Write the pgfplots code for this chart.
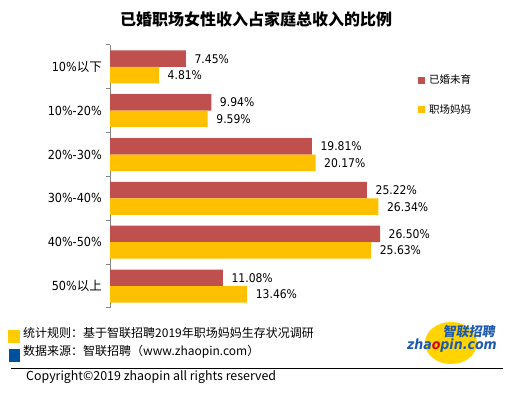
\documentclass[border=0pt]{standalone}
\usepackage{pgfplots}
\pgfplotsset{compat=1.18}
\usepackage{fontspec}
\setmainfont{DejaVu Sans Condensed}
\newfontfamily\cjk{Noto Sans CJK SC}
\newfontfamily\cjkit[FakeSlant=0.15]{Noto Sans CJK SC}
\definecolor{barred}{HTML}{C0504D}
\definecolor{baryel}{HTML}{FFC000}
\definecolor{axgray}{HTML}{868686}
\definecolor{fyel}{HTML}{FFCC00}
\definecolor{fblue}{HTML}{0050A0}
\definecolor{logoblue}{HTML}{1E5BB0}
\definecolor{logoyel}{HTML}{FFD400}
\begin{document}
\begin{tikzpicture}[x=1pt,y=1pt]
\path[use as bounding box] (0,0) rectangle (514,398);
\node[font=\cjk\bfseries\fontsize{16}{16}\selectfont] at (256,379) {已婚职场女性收入占家庭总收入的比例};
\begin{axis}[
 at={(110pt,353pt)}, anchor=north west,
 scale only axis, width=285.3pt, height=263pt,
 xmin=0, xmax=28, ymin=-0.5, ymax=5.5,
 axis x line=none, axis y line*=left,
 y axis line style={draw=axgray, line width=1pt},
 ytick={0,...,5},
 yticklabels={50\%{\cjk 以上}, 40\%-50\%, 30\%-40\%, 20\%-30\%, 10\%-20\%, 10\%{\cjk 以下}},
 minor ytick={-0.5,0.5,...,5.5},
 major tick length=0pt, minor tick length=4pt, tick align=outside,
 minor tick style={draw=axgray, line width=1pt},
 yticklabel style={font=\fontsize{12.5}{12.5}\selectfont, inner sep=0pt, xshift=-8pt},
 xbar, bar width=16.5pt,
 clip=false,
 nodes near coords={\pgfmathprintnumber[fixed,fixed zerofill,precision=2,assume math mode=true]{\pgfplotspointmeta}\%},
 point meta=x,
 every node near coord/.append style={font=\fontsize{12}{12}\selectfont, inner sep=0pt, xshift=8.5pt, text=black},
 legend style={draw=none, fill=none, at={(1.069,0.8945)}, anchor=north west,
   font=\cjk\fontsize{10.5}{10.5}\selectfont, row sep=19.5pt, column sep=4pt,
   nodes={inner sep=0pt}},
 legend image code/.code={\fill[#1,draw=none] (0pt,-3.5pt) rectangle (7pt,3.5pt);},
 legend cell align=left,
]
\addplot[fill=barred, draw=none, bar shift=8.25pt] coordinates {(7.45,5) (9.94,4) (19.81,3) (25.22,2) (26.50,1) (11.08,0)};
\addplot[fill=baryel, draw=none, bar shift=-8.25pt] coordinates {(4.81,5) (9.59,4) (20.17,3) (26.34,2) (25.63,1) (13.46,0)};
\legend{已婚未育, 职场妈妈}
\end{axis}
\fill[fyel] (8,55) rectangle (20,68);
\fill[fblue] (9,36) rectangle (20,49);
\node[anchor=west, font=\cjk\fontsize{12}{12}\selectfont, inner sep=0pt] at (23,65) {统计规则：基于智联招聘2019年职场妈妈生存状况调研};
\node[anchor=west, font=\cjk\fontsize{12}{12}\selectfont, inner sep=0pt] at (23,46) {数据来源：智联招聘（www.zhaopin.com）};
\draw[line width=0.8pt] (11,30) -- (503,30);
\node[anchor=west, font=\cjk\fontsize{12.4}{12.4}\selectfont, inner sep=0pt] at (26,21) {Copyright©2019 zhaopin all rights reserved};
\fill[logoyel] (451,55) ellipse [x radius=26, y radius=21];
\node[font=\cjkit\bfseries\fontsize{13}{13}\selectfont, text=logoblue, anchor=east, inner sep=0pt] at (495,66) {智联招聘};
\node[font=\bfseries\itshape\fontsize{14}{14}\selectfont, text=logoblue, anchor=east, inner sep=0pt] at (497,52) {zha{\color{red!85!black}o}pin.com};
\end{tikzpicture}
\end{document}
